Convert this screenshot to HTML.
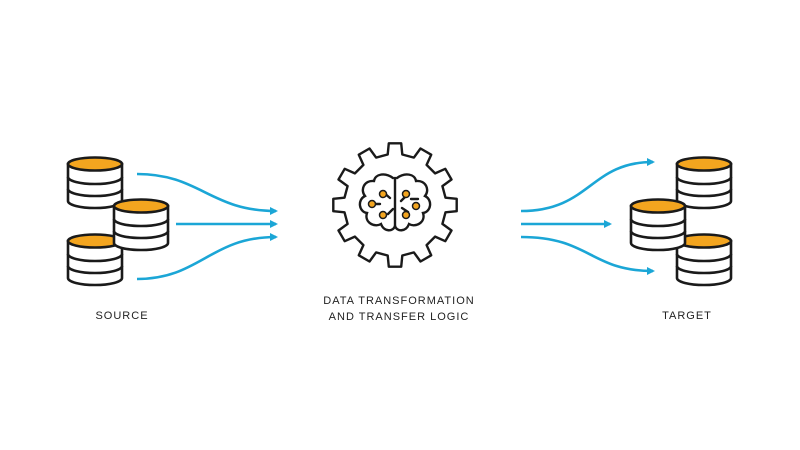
<!DOCTYPE html>
<html><head><meta charset="utf-8"><style>
html,body{margin:0;padding:0;background:#fff;}
svg{display:block}
text{font-family:"Liberation Sans",sans-serif;font-size:11px;letter-spacing:1px;fill:#222}
</style></head><body>
<svg width="800" height="450" viewBox="0 0 800 450" xmlns="http://www.w3.org/2000/svg">
<defs>
<g id="cyl" stroke="#1a1a1a" stroke-width="2.6" fill="#fff">
<path d="M-27,7 L-27,44 A27,7 0 0 0 27,44 L27,7 Z"/>
<path d="M-27,20 A27,7 0 0 0 27,20 M-27,32 A27,7 0 0 0 27,32" fill="none"/>
<ellipse cx="0" cy="7" rx="27" ry="6.5" fill="#f3a51f"/>
</g>
<marker id="ah" markerWidth="8" markerHeight="8" refX="6" refY="4" orient="auto" markerUnits="userSpaceOnUse">
<path d="M0,0 L8,4 L0,8 Z" fill="#1ba6d6"/>
</marker>
</defs>
<!-- left cylinders -->
<use href="#cyl" x="95" y="157"/>
<use href="#cyl" x="95" y="234"/>
<use href="#cyl" x="141" y="199"/>
<!-- right cylinders -->
<use href="#cyl" x="704" y="157"/>
<use href="#cyl" x="704" y="234"/>
<use href="#cyl" x="658" y="199"/>
<!-- arrows -->
<g stroke="#1ba6d6" stroke-width="2.6" fill="none" marker-end="url(#ah)">
<path d="M137,174 C200,174 210,211 276,211"/>
<path d="M176,224 L276,224"/>
<path d="M137,279 C200,279 210,237 276,237"/>
<path d="M521,211 C590,211 590,162 653,162"/>
<path d="M521,224 L610,224"/>
<path d="M521,237 C590,237 590,271 653,271"/>
</g>
<!-- gear -->
<path id="gear" fill="none" stroke="#1a1a1a" stroke-width="2.4" stroke-linejoin="round"/>
<!-- brain -->
<g fill="none" stroke="#1a1a1a" stroke-width="2.4" stroke-linecap="round">
<path d="M393,178 C385,172 375,174 374,181 C364,180 360,190 365,196 C357,200 359,212 367,213 C364,222 374,228 381,224 C384,232 393,232 395,226 C397,232 406,232 409,224 C416,228 426,222 423,213 C431,212 433,200 425,196 C430,190 426,180 416,181 C415,174 405,172 397,178"/>
<path d="M395,178 L395,226"/>
<path d="M383,192 L390,198 M388,214 L393,209 M373,204 L380,204 M406,196 L401,201 M408,212 L402,208 M418,199 L411,199"/>
</g>
<g fill="#f3a51f" stroke="#1a1a1a" stroke-width="1.5">
<circle cx="383" cy="194" r="3.5"/><circle cx="406" cy="194" r="3.5"/>
<circle cx="372" cy="204" r="3.5"/><circle cx="416" cy="206" r="3.5"/>
<circle cx="383" cy="215" r="3.5"/><circle cx="406" cy="215" r="3.5"/>
</g>
<text x="122" y="319" text-anchor="middle">SOURCE</text>
<text x="399" y="304" text-anchor="middle">DATA TRANSFORMATION</text>
<text x="399" y="320" text-anchor="middle">AND TRANSFER LOGIC</text>
<text x="687" y="319" text-anchor="middle">TARGET</text>
</svg>
<script>
(function(){
var cx=395,cy=205,Ro=62,Ri=51,n=12,d="";
for(var i=0;i<n;i++){
 var a=i*2*Math.PI/n - Math.PI/2;
 var s=Math.PI/n;
 var pts=[[Ri,a-s*0.55],[Ro,a-s*0.38],[Ro,a+s*0.38],[Ri,a+s*0.55]];
 pts.forEach(function(p,j){
  var x=(cx+p[0]*Math.cos(p[1])).toFixed(1),y=(cy+p[0]*Math.sin(p[1])).toFixed(1);
  d+=(i==0&&j==0?"M":"L")+x+","+y+" ";
 });
}
document.getElementById("gear").setAttribute("d",d+"Z");
})();
</script>
</body></html>
